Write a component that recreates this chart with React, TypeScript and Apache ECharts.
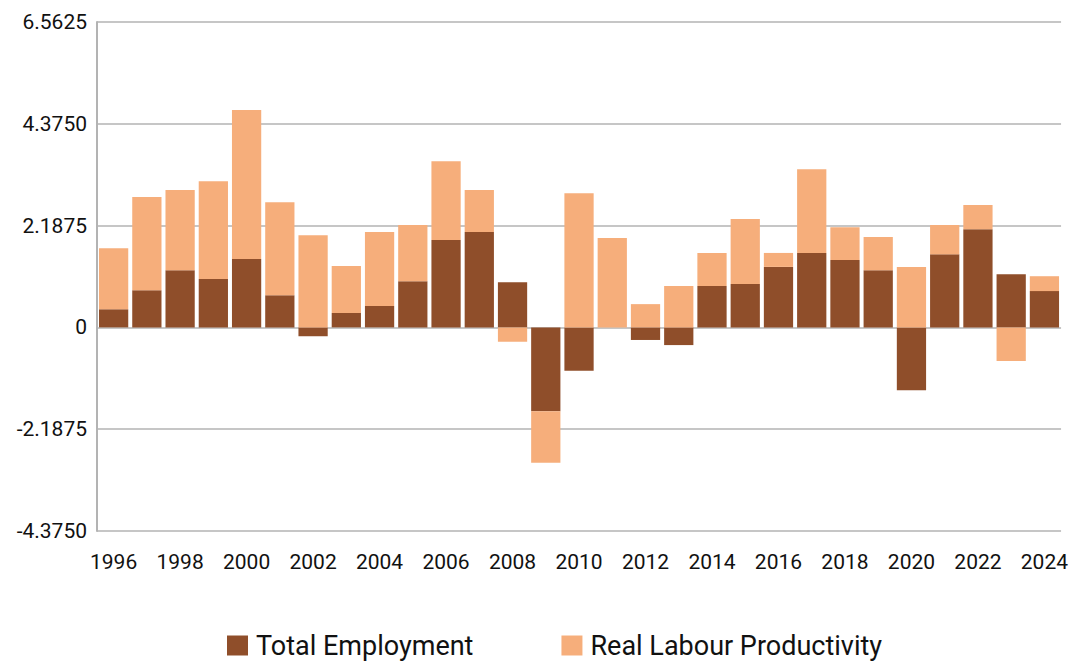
import React, { useEffect, useRef } from "react";
import * as echarts from "echarts";

const years = [
  "1996", "1997", "1998", "1999", "2000", "2001", "2002", "2003", "2004", "2005",
  "2006", "2007", "2008", "2009", "2010", "2011", "2012", "2013", "2014", "2015",
  "2016", "2017", "2018", "2019", "2020", "2021", "2022", "2023", "2024",
];
const totalEmployment = [
  0.39, 0.8, 1.23, 1.04, 1.47, 0.69, -0.19, 0.31, 0.46, 0.99,
  1.88, 2.05, 0.97, -1.8, -0.93, 0.0, -0.27, -0.38, 0.89, 0.93,
  1.3, 1.6, 1.45, 1.23, -1.35, 1.57, 2.11, 1.14, 0.78,
];
const realLabourProductivity = [
  1.31, 2.0, 1.72, 2.1, 3.2, 2.0, 1.98, 1.01, 1.59, 1.21,
  1.69, 0.9, -0.31, -1.11, 2.88, 1.92, 0.5, 0.89, 0.71, 1.4,
  0.3, 1.8, 0.7, 0.71, 1.3, 0.63, 0.52, -0.72, 0.32,
];
const yTicks = { min: -4.375, max: 6.5625, interval: 2.1875 };

export default function App() {
  const ref = useRef<HTMLDivElement>(null);
  useEffect(() => {
    if (!ref.current) return;
    const chart = echarts.init(ref.current, undefined, { renderer: "svg" });
    const font = "Roboto";
    chart.setOption({
      animation: false,
      textStyle: { fontFamily: font },
      grid: { left: 89, right: 8, top: 14, bottom: 133, containLabel: false },
      legend: {
        top: 619,
        left: 214,
        itemWidth: 21,
        itemHeight: 20,
        itemGap: 88,
        icon: "rect",
        textStyle: { fontSize: 27, color: "#111", fontFamily: font, padding: [0, 0, 0, 3] },
        data: ["Total Employment", "Real Labour Productivity"],
      },
      xAxis: {
        type: "category",
        data: years,
        axisLine: { show: false },
        axisTick: { show: false },
        axisLabel: { interval: 1, fontSize: 21, color: "#111", margin: 20 },
      },
      yAxis: {
        type: "value",
        min: yTicks.min,
        max: yTicks.max,
        interval: yTicks.interval,
        axisLine: { show: true, lineStyle: { color: "#b3b3b3", width: 2 } },
        axisTick: { show: false },
        splitLine: { lineStyle: { color: "#b3b3b3", width: 1.5 } },
        axisLabel: {
          fontSize: 21,
          color: "#111",
          margin: 10,
          formatter: (v: number) => (Math.abs(v) < 1e-9 ? "0" : v.toFixed(4)),
        },
      },
      series: [
        {
          name: "Total Employment",
          type: "bar",
          stack: "a",
          data: totalEmployment,
          barCategoryGap: "12%",
          itemStyle: { color: "#8F4E2A" },
        },
        {
          name: "Real Labour Productivity",
          type: "bar",
          stack: "a",
          data: realLabourProductivity,
          itemStyle: { color: "#F6AE7B" },
        },
      ],
    });
    return () => chart.dispose();
  }, []);
  return <div ref={ref} style={{ width: 1063, height: 656 }} />;
}
